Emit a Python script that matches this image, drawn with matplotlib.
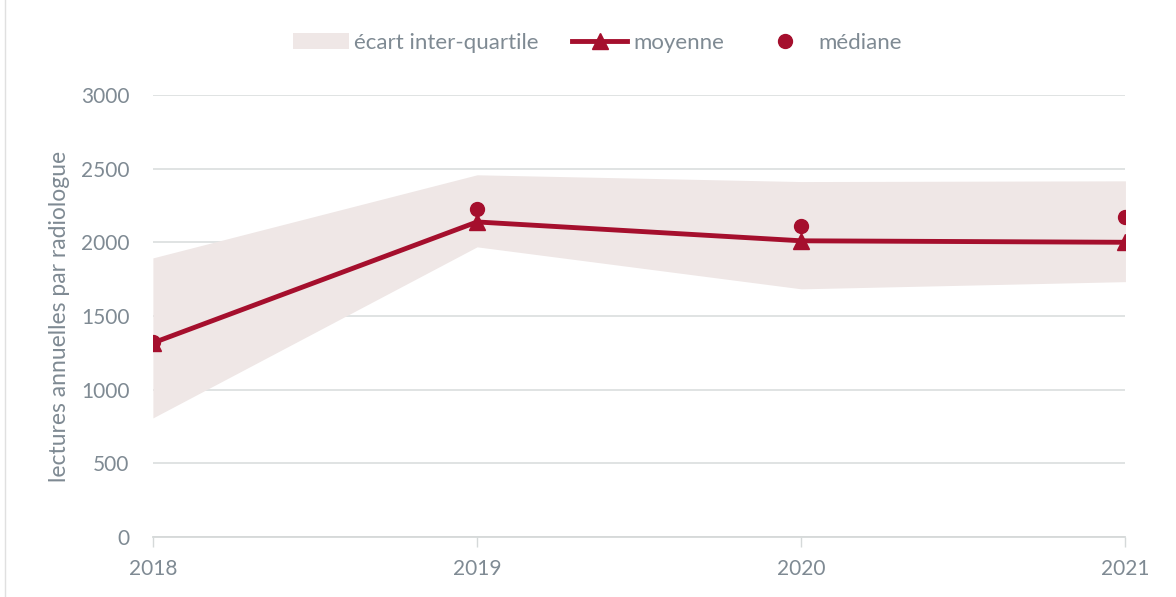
import matplotlib.pyplot as plt
from matplotlib.patches import Patch
from matplotlib.lines import Line2D

# data
years = [2018, 2019, 2020, 2021]
moyenne = [1317, 2138, 2010, 2000]
mediane = [1320, 2227, 2111, 2172]
q1 = [808, 1969, 1684, 1733]
q3 = [1894, 2458, 2412, 2417]

red = '#a50f2d'
band = '#efe7e6'
grey = '#7f8a93'

plt.rcParams['font.family'] = ['Lato', 'DejaVu Sans']

fig = plt.figure(figsize=(11.76, 5.97), dpi=100)
ax = fig.add_axes([0.130, 0.1005, 0.827, 0.7405])

ax.fill_between(years, q1, q3, color=band, lw=0, zorder=1)
ax.plot(years, moyenne, color=red, lw=3.5, marker='^', ms=11, zorder=3)
ax.plot(years, mediane, ls='none', marker='o', color=red, ms=10, zorder=4)

ax.set_xlim(2018, 2021)
ax.set_ylim(0, 3000)
ax.set_yticks(range(0, 3001, 500))
ax.set_xticks(years)
ax.grid(axis='y', color='#dde1e1', lw=1.3)
ax.set_axisbelow(True)
for s in ['top', 'right', 'left']:
    ax.spines[s].set_visible(False)
ax.spines['bottom'].set_color('#d5d9d9')
ax.spines['bottom'].set_linewidth(1.3)
ax.tick_params(axis='y', length=0, pad=17, labelsize=15, labelcolor=grey)
ax.tick_params(axis='x', length=7, color='#d5d9d9', width=1, pad=9,
               labelsize=15, labelcolor=grey)
ax.set_ylabel('lectures annuelles par radiologue', fontsize=16.5, color=grey, labelpad=8)

handles = [
    Patch(facecolor=band, edgecolor='none'),
    Line2D([], [], color=red, lw=3.5, marker='^', ms=11),
    Line2D([], [], color=red, ls='none', marker='o', ms=10),
]
labels = ['écart inter-quartile', 'moyenne', 'médiane']
leg = fig.legend(handles, labels, loc='center', bbox_to_anchor=(0.508, 0.928), ncol=3,
                 frameon=False, fontsize=16, handlelength=2.5, handletextpad=0.25,
                 columnspacing=1.5)
for t in leg.get_texts():
    t.set_color(grey)

fig.add_artist(Line2D([0.004, 0.004], [0.0, 1.0], color='#e0e0e0', lw=1))

fig.savefig('out.png', dpi=100)
